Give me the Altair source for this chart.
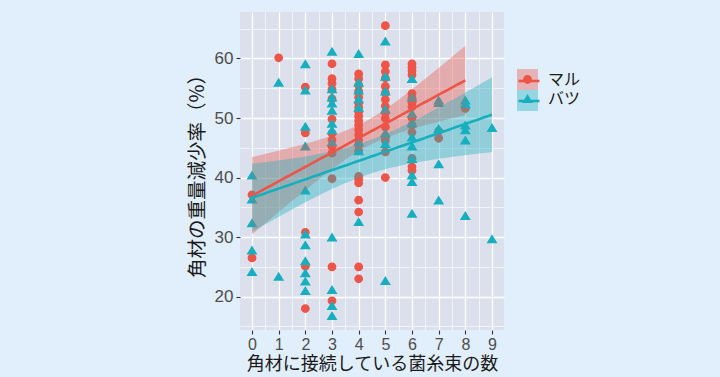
import altair as alt
import numpy as np
import pandas as pd

# ---- data ----
maru_x = [0, 0,
          1,
          2, 2, 2, 2, 2,
          3, 3, 3, 3, 3, 3, 3, 3, 3, 3, 3, 3, 3,
          4, 4, 4, 4, 4, 4, 4, 4, 4, 4, 4, 4, 4, 4, 4, 4, 4, 4, 4, 4, 4, 4, 4,
          5, 5, 5, 5, 5, 5, 5, 5, 5, 5, 5, 5, 5, 5, 5,
          6, 6, 6, 6, 6, 6, 6, 6, 6, 6, 6, 6, 6, 6,
          7, 7,
          8]
maru_y = [37.1, 26.5,
          60.1,
          55.2, 47.5, 30.8, 25.1, 18.0,
          59.1, 56.6, 55.8, 54.8, 53.2, 49.8, 47.4, 46.3, 45.2, 44.1, 39.8, 25.0, 19.3,
          57.4, 56.6, 55.5, 54.5, 53.5, 52.5, 51.8, 51.0, 50.3, 49.5, 48.8, 48.0, 47.2, 46.3, 45.5, 44.5,
          40.2, 39.7, 39.1, 36.2, 34.2, 25.0, 23.0,
          65.5, 58.9, 57.8, 56.7, 55.3, 54.2, 53.1, 52.0, 50.9, 49.9, 48.5, 46.8, 46.2, 44.3, 40.0,
          59.1, 58.5, 57.9, 57.2, 54.1, 53.3, 52.6, 51.9, 50.0, 48.8, 47.6, 43.2, 41.8, 41.2,
          47.8, 46.6,
          51.6]

batsu_x = [0, 0, 0, 0, 0,
           1, 1,
           2, 2, 2, 2, 2, 2, 2, 2, 2, 2, 2,
           3, 3, 3, 3, 3, 3, 3, 3, 3, 3, 3, 3,
           4, 4, 4, 4, 4, 4, 4, 4,
           5, 5, 5, 5, 5, 5, 5,
           6, 6, 6, 6, 6, 6, 6, 6, 6, 6,
           7, 7, 7, 7, 7,
           8, 8, 8, 8, 8, 8,
           9, 9]
batsu_y = [40.4, 36.4, 32.4, 27.8, 24.2,
           56.0, 23.4,
           59.1, 54.7, 48.6, 45.3, 37.9, 30.5, 28.7, 26.0, 24.0, 22.6, 21.0,
           61.2, 54.9, 53.5, 52.5, 51.3, 49.1, 48.0, 46.0, 30.0, 21.2, 18.5, 16.8,
           60.8, 56.0, 54.7, 53.2, 51.8, 46.0, 44.5, 32.6,
           62.9, 57.0, 54.5, 51.5, 47.5, 45.7, 22.7,
           56.6, 53.5, 50.8, 49.2, 46.8, 45.3, 43.2, 40.4, 39.3, 34.0,
           53.0, 52.6, 48.2, 42.3, 36.2,
           53.0, 52.4, 48.8, 48.0, 46.3, 33.6,
           48.4, 29.7]

groups = ["マル", "バツ"]
colors = ["#EC5547", "#17AFBE"]

# ---- tables ----
pts = pd.concat([
    pd.DataFrame({"x": maru_x, "y": maru_y, "g": groups[0]}),
    pd.DataFrame({"x": batsu_x, "y": batsu_y, "g": groups[1]}),
], ignore_index=True)


def fit_table(xs, ys, name):
    xs = np.asarray(xs, float)
    ys = np.asarray(ys, float)
    n = len(xs)
    b, a = np.polyfit(xs, ys, 1)
    resid = ys - (a + b * xs)
    s = np.sqrt(np.sum(resid ** 2) / (n - 2))
    xbar = xs.mean()
    sxx = np.sum((xs - xbar) ** 2)
    grid = np.linspace(xs.min(), xs.max(), 80)
    fit = a + b * grid
    se = s * np.sqrt(1.0 / n + (grid - xbar) ** 2 / sxx)
    t = 1.99
    return pd.DataFrame({"x": grid, "fit": fit, "lo": fit - t * se,
                         "hi": fit + t * se, "g": name})


fits = pd.concat([fit_table(maru_x, maru_y, groups[0]),
                  fit_table(batsu_x, batsu_y, groups[1])], ignore_index=True)
fits["g_area"] = fits["g"]
fits["g_line"] = fits["g"]
pts["g_pt"] = pts["g"]

circle = "M-0.42,0A0.42,0.42,0,1,1,0.42,0A0.42,0.42,0,1,1,-0.42,0Z"
tri = "M0,-0.44L0.52,0.42L-0.52,0.42Z"

LX, LY = 277, 57
SYM = 440
FONT = "Noto Sans CJK JP"

x_vals = [v / 2 for v in range(-1, 20)]
y_vals = list(range(15, 70, 5))

xscale = alt.Scale(domain=[-0.45, 9.45], nice=False, zero=False)
yscale = alt.Scale(domain=[14.4, 67.8], nice=False, zero=False)

xaxis = alt.Axis(
    values=x_vals,
    tickCount=100,
    labelExpr="datum.value % 1 === 0 ? format(datum.value, 'd') : ''",
    labelOverlap=False,
    labelFontSize=16,
    labelPadding=2,
    titlePadding=3,
    gridWidth={"condition": {"test": "datum.value % 1 === 0", "value": 1.3}, "value": 0.6},
    tickOpacity={"condition": {"test": "datum.value % 1 === 0", "value": 1}, "value": 0},
    title="角材に接続している菌糸束の数",
)
yaxis = alt.Axis(
    values=y_vals,
    tickCount=100,
    labelExpr="datum.value % 10 === 0 ? format(datum.value, 'd') : ''",
    labelOverlap=False,
    titleFontSize=19.5,
    titlePadding=7,
    gridWidth={"condition": {"test": "datum.value % 10 === 0", "value": 1.3}, "value": 0.6},
    tickOpacity={"condition": {"test": "datum.value % 10 === 0", "value": 1}, "value": 0},
    title="角材の重量減少率（%）",
)

points = alt.Chart(pts).mark_point(filled=True, opacity=1, size=SYM).encode(
    x=alt.X("x:Q", scale=xscale, axis=xaxis),
    y=alt.Y("y:Q", scale=yscale, axis=yaxis),
    color=alt.Color("g_pt:N", sort=groups,
                    scale=alt.Scale(domain=groups, range=colors),
                    legend=alt.Legend(title=None, orient="none", legendX=LX, legendY=LY,
                                      symbolSize=SYM, symbolStrokeWidth=0,
                                      labelFontSize=16, labelOffset=10, rowPadding=0,
                                      labelFont=FONT, labelColor="#1a1a1a")),
    shape=alt.Shape("g_pt:N", sort=groups,
                    scale=alt.Scale(domain=groups, range=[circle, tri])),
)

band = alt.Chart(fits).mark_area(opacity=0.38).encode(
    x=alt.X("x:Q", scale=xscale),
    y=alt.Y("lo:Q", scale=yscale),
    y2="hi:Q",
    fill=alt.Fill("g_area:N", sort=["マル", "バツ"],
                  scale=alt.Scale(range=colors),
                  legend=alt.Legend(title=None, orient="none", legendX=LX, legendY=LY,
                                    symbolType="square", symbolSize=SYM,
                                    symbolOpacity=0.38, symbolStrokeWidth=0,
                                    labelFontSize=16, labelOffset=10, rowPadding=0,
                                    labelExpr="''", labelFont=FONT)),
    detail="g:N",
)

line = alt.Chart(fits).mark_line(strokeWidth=2.6).encode(
    x=alt.X("x:Q", scale=xscale),
    y=alt.Y("fit:Q", scale=yscale),
    stroke=alt.Stroke("g_line:N", sort=["マル", "バツ"],
                      scale=alt.Scale(range=colors),
                      legend=alt.Legend(title=None, orient="none", legendX=LX, legendY=LY,
                                        symbolType="stroke", symbolSize=SYM,
                                        symbolStrokeWidth=2.6,
                                        labelFontSize=16, labelOffset=10, rowPadding=0,
                                        labelExpr="''", labelFont=FONT)),
    detail="g:N",
)

chart = alt.layer(points, band, line).resolve_scale(
    color="independent", fill="independent", stroke="independent", shape="independent"
).properties(
    width=264, height=318,
    autosize=alt.AutoSizeParams(type="none"),
    padding={"left": 240, "top": 12, "right": 216, "bottom": 47},
    background="#E1EEFB",
).configure_view(
    fill="#DBE0EC", stroke=None,
).configure_axis(
    domain=False,
    gridColor="#FFFFFF",
    tickColor="#333333",
    tickSize=4,
    tickWidth=1.1,
    labelFont="Liberation Sans",
    labelFontSize=17,
    labelColor="#4D4D4D",
    labelPadding=3,
    titleFont=FONT,
    titleFontSize=18,
    titleFontWeight="normal",
    titleColor="#1a1a1a",
)

chart.save("out.html", embed_options={"renderer": "svg", "actions": False})
